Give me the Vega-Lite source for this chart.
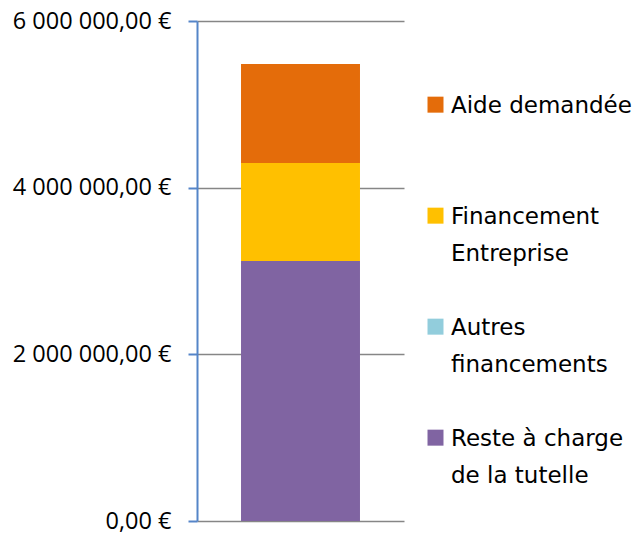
{
  "$schema": "https://vega.github.io/schema/vega-lite/v6.json",
  "width": 207,
  "height": 500,
  "autosize": {"type": "none"},
  "padding": {"left": 197, "top": 21, "right": 238, "bottom": 12},
  "background": "white",
  "config": {
    "view": {"stroke": null},
    "font": "Open Sans",
    "style": {"guide-label": {"lineHeight": 37}}
  },
  "data": {
    "values": [
      {"cat": "A", "serie": "Reste à charge de la tutelle", "val": 3120000, "ord": 1},
      {"cat": "A", "serie": "Autres financements", "val": 0, "ord": 2},
      {"cat": "A", "serie": "Financement Entreprise", "val": 1176000, "ord": 3},
      {"cat": "A", "serie": "Aide demandée", "val": 1188000, "ord": 4}
    ]
  },
  "mark": {"type": "bar"},
  "encoding": {
    "x": {
      "field": "cat",
      "type": "nominal",
      "axis": null,
      "scale": {"paddingInner": 0, "paddingOuter": 0.37}
    },
    "y": {
      "field": "val",
      "type": "quantitative",
      "stack": "zero",
      "scale": {"domain": [0, 6000000], "nice": false},
      "axis": {
        "values": [0, 2000000, 4000000, 6000000],
        "labelExpr": "replace(replace(format(datum.value, ',.2f'), regexp(',', 'g'), ' '), '.', ',') + ' €'",
        "title": null,
        "domainColor": "#5585c8",
        "domainWidth": 2,
        "tickColor": "#5585c8",
        "tickWidth": 2,
        "tickSize": 9,
        "labelPadding": 17,
        "labelFontSize": 23.5,
        "labelLineHeight": 26,
        "labelFont": "Open Sans",
        "labelColor": "#000000",
        "grid": true,
        "gridColor": "#868686",
        "gridWidth": 1.5
      }
    },
    "color": {
      "field": "serie",
      "type": "nominal",
      "scale": {
        "domain": ["Aide demandée", "Financement Entreprise", "Autres financements", "Reste à charge de la tutelle"],
        "range": ["#e46c0a", "#ffc000", "#92cddc", "#8064a2"]
      },
      "legend": {
        "orient": "none",
        "legendX": 227,
        "legendY": 62,
        "padding": 0,
        "title": null,
        "symbolType": "M-1,0.27H1V2.27H-1Z",
        "symbolSize": 256,
        "symbolStrokeWidth": 0,
        "labelFontSize": 23,
        "labelFont": "DejaVu Sans",
        "labelColor": "#000000",
        "labelLimit": 300,
        "labelBaseline": "top",
        "labelOffset": 4,
        "rowPadding": 39,
        "labelExpr": "datum.label == 'Financement Entreprise' ? ['Financement', 'Entreprise'] : datum.label == 'Autres financements' ? ['Autres', 'financements'] : datum.label == 'Reste à charge de la tutelle' ? ['Reste à charge', 'de la tutelle'] : [datum.label, '']"
      }
    },
    "order": {"field": "ord", "type": "quantitative"}
  }
}
